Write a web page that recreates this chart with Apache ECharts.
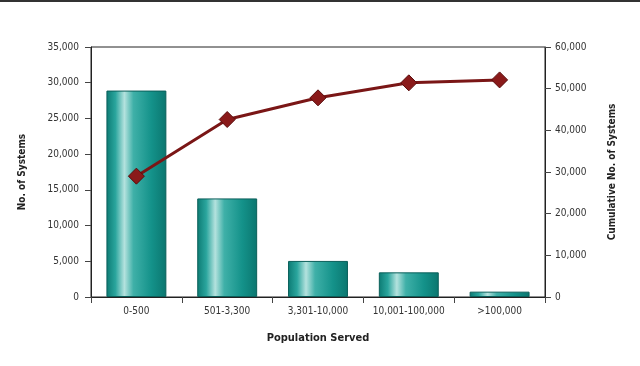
<!DOCTYPE html>
<html>
<head>
<meta charset="utf-8">
<script src="https://cdn.jsdelivr.net/npm/echarts@6/dist/echarts.min.js"></script>
<style>html,body{margin:0;padding:0;background:#fff;}#c{width:640px;height:366px;}</style>
</head>
<body>
<div id="c"></div>
<script>
const categories = ['0-500', '501-3,300', '3,301-10,000', '10,001-100,000', '>100,000'];
const systems = [28900, 13800, 5050, 3450, 750];
const cumulative = [29000, 42600, 47800, 51400, 52100];
const leftTicks = [0, 5000, 10000, 15000, 20000, 25000, 30000, 35000];
const rightTicks = [0, 10000, 20000, 30000, 40000, 50000, 60000];

const font = '"Liberation Sans Narrow", "DejaVu Sans Condensed", sans-serif';
const fmt = v => v === 0 ? '0' : v.toLocaleString('en-US');

const chart = echarts.init(document.getElementById('c'));
chart.setOption({
  animation: false,
  backgroundColor: '#ffffff',
  graphic: [{
    type: 'rect', shape: {x: 0, y: 0, width: 640, height: 2},
    style: {fill: '#333'}
  }],
  grid: {left: 91, right: 95, top: 47, bottom: 69, show: true, borderColor: '#222', borderWidth: 1},
  xAxis: {
    type: 'category',
    data: categories,
    name: 'Population Served',
    nameLocation: 'middle',
    nameGap: 36,
    nameTextStyle: {fontFamily: font, fontWeight: 'bold', fontSize: 11, color: '#222'},
    axisLine: {lineStyle: {color: '#222', width: 1}},
    axisTick: {show: true, length: 6, lineStyle: {color: '#444'}},
    axisLabel: {fontFamily: font, fontSize: 10, color: '#333', margin: 9, interval: 0}
  },
  yAxis: [{
    type: 'value',
    min: 0, max: 35000, interval: 5000,
    name: 'No. of Systems',
    nameLocation: 'middle',
    nameGap: 64,
    nameRotate: 90,
    nameTextStyle: {fontFamily: font, fontWeight: 'bold', fontSize: 10, color: '#222'},
    axisLine: {show: true, lineStyle: {color: '#222'}},
    axisTick: {show: true, length: 6, lineStyle: {color: '#444'}},
    axisLabel: {fontFamily: font, fontSize: 10, color: '#333', margin: 12,
      formatter: v => leftTicks.includes(v) ? fmt(v) : ''},
    splitLine: {show: false}
  }, {
    type: 'value',
    position: 'right',
    min: 0, max: 60000, interval: 10000,
    name: 'Cumulative No. of Systems',
    nameLocation: 'middle',
    nameGap: 62,
    nameRotate: 90,
    nameTextStyle: {fontFamily: font, fontWeight: 'bold', fontSize: 10, color: '#222'},
    axisLine: {show: true, lineStyle: {color: '#222'}},
    axisTick: {show: true, length: 6, lineStyle: {color: '#444'}},
    axisLabel: {fontFamily: font, fontSize: 10, color: '#333', margin: 10,
      formatter: v => rightTicks.includes(v) ? fmt(v) : ''},
    splitLine: {show: false}
  }],
  series: [{
    type: 'bar',
    data: systems,
    yAxisIndex: 0,
    barWidth: '66%',
    itemStyle: {
      borderColor: '#0a5f5a',
      borderWidth: 1,
      color: new echarts.graphic.LinearGradient(0, 0, 1, 0, [
        {offset: 0, color: '#0c7a73'},
        {offset: 0.15, color: '#2aa59d'},
        {offset: 0.3, color: '#b4e2de'},
        {offset: 0.45, color: '#3fb0a8'},
        {offset: 0.75, color: '#14928a'},
        {offset: 1, color: '#0b766f'}
      ])
    }
  }, {
    type: 'line',
    data: cumulative,
    yAxisIndex: 1,
    symbol: 'diamond',
    symbolSize: 16,
    lineStyle: {color: '#7a1616', width: 3},
    itemStyle: {color: '#8a1a1a', borderColor: '#5a0c0c', borderWidth: 1}
  }]
});
</script>
</body>
</html>
